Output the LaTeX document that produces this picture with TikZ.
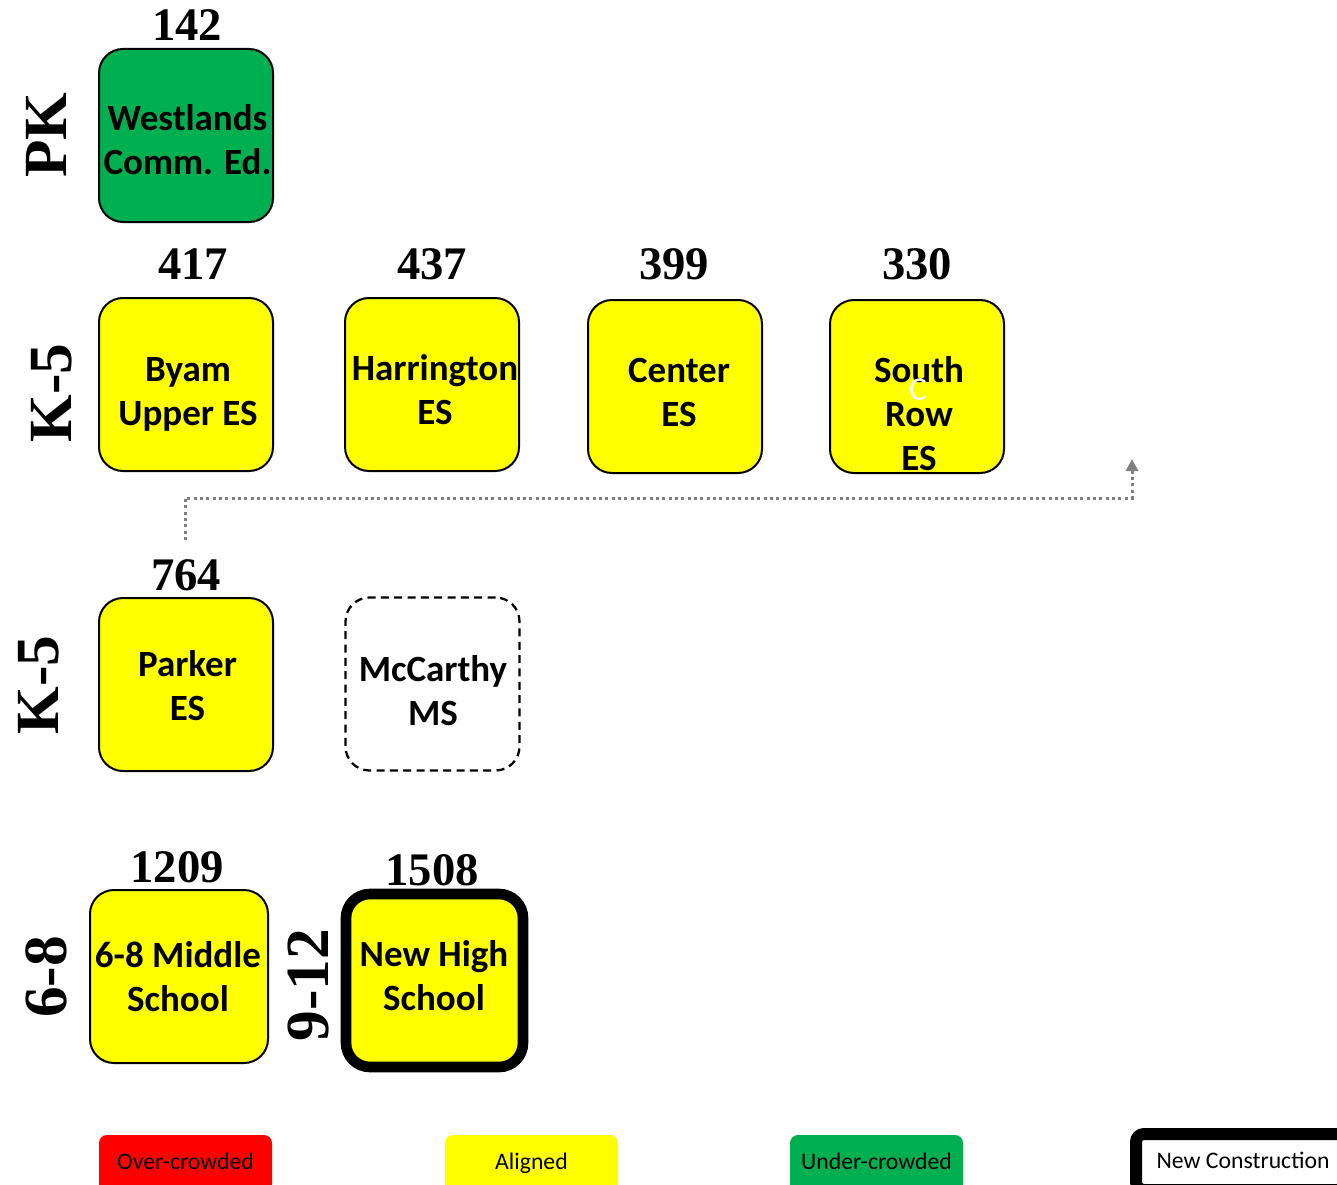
\documentclass[tikz,border=0pt]{standalone}
\usepackage{fontspec}
\setmainfont{Carlito}
\newfontfamily\numfont{Liberation Serif}
\usetikzlibrary{arrows.meta}
\definecolor{schyellow}{HTML}{FFFF00}
\definecolor{schgreen}{HTML}{00B050}
\definecolor{schred}{HTML}{FF0000}
\definecolor{arrgray}{HTML}{7F7F7F}
\begin{document}
\begin{tikzpicture}[x=0.75pt,y=-0.75pt,
  school/.style={draw=black, line width=1.5pt, rounded corners=18pt,
    minimum width=130.5pt, minimum height=129.75pt, inner sep=0pt},
  boxtext/.style={align=center, inner sep=0pt, font=\fontsize{27.75}{33}\selectfont\bfseries},
  aligned/.style={school, fill=schyellow},
  under/.style={school, fill=schgreen},
  proposed/.style={school, dashed, dash pattern=on 6pt off 4pt, line width=1.7pt},
  newbuild/.style={school, fill=schyellow, line width=8pt},
  enroll/.style={font=\numfont\bfseries\fontsize{35}{35}\selectfont, inner sep=0pt},
  grade/.style={rotate=90, font=\numfont\bfseries\fontsize{46}{46}\selectfont, inner sep=0pt},
  legendbox/.style={rounded corners=6pt, minimum width=129.75pt, minimum height=42.75pt,
    inner sep=0pt, text height=12.5pt, text depth=3.9pt, font=\fontsize{17.8}{20}\selectfont},
  linkline/.style={draw=arrgray, line width=2.25pt, dash pattern=on 2.25pt off 2.5pt,
    -{Triangle[width=9pt,length=9pt]}}
]
\clip (0,0) rectangle (1337,1184);
\path[use as bounding box] (0,0) rectangle (1337,1184);

% grade labels
\node[grade] (gPK) at (46,135) {PK};
\node[grade] (gK5a) at (52,393) {K-5};
\node[grade] (gK5b) at (39,685) {K-5};
\node[grade] (g68) at (46,977) {6-8};
\node[grade] (g912) at (308,985) {9-12};

% enrollment numbers
\node[enroll] (n142) at (187,25) {142};
\node[enroll] (n417) at (193,264) {417};
\node[enroll] (n437) at (432,264) {437};
\node[enroll] (n399) at (674,264) {399};
\node[enroll] (n330) at (917,264) {330};
\node[enroll] (n764) at (186,575) {764};
\node[enroll] (n1209) at (177,867) {1209};
\node[enroll] (n1508) at (432,870) {1508};

% school boxes
\node[under] (west) at (186,135.5) {};
\node[aligned] (byam) at (186,384.5) {};
\node[aligned] (harr) at (432,384.5) {};
\node[aligned] (cent) at (675,386.5) {};
\node[aligned] (south) at (917,386.5) {};
\node[aligned] (parker) at (186,684.5) {};
\node[proposed] (mcc) at (432.5,684) {};
\node[aligned, minimum width=133.5pt] (mid) at (179,976.5) {};
\node[newbuild, minimum width=132.75pt] (high) at (434.5,980.5) {};

% school names
\node[boxtext] (westtxt) at (187.5,139.5) {Westlands\\Comm. Ed.};
\node[boxtext] (byamtxt) at (188,394) {Byam\\Upper ES};
\node[boxtext] (harrtxt) at (435,389.5) {Harrington\\ES};
\node[boxtext] (centtxt) at (679,392.5) {Center\\ES};
\node[boxtext] (southtxt) at (919,413.5) {South\\Row\\ES};
\node[text=white, inner sep=0pt, font=\fontsize{25}{25}\selectfont] (southc) at (918,390) {C};
\node[boxtext] (parkertxt) at (187.5,685.5) {Parker\\ES};
\node[boxtext] (mcctxt) at (433,690.5) {McCarthy\\MS};
\node[boxtext] (midtxt) at (178,976.5) {6-8 Middle\\School};
\node[boxtext] (hightxt) at (434,976) {New High\\School};

% dotted link
\coordinate (arrStart) at (185,540);
\coordinate (arrTurn) at (1132,498);
\coordinate (arrEnd) at (1132,459);
\draw[linkline] (arrStart) |- (arrTurn) -- (arrEnd);

% legend
\node[legendbox, fill=schred] (lgOver) at (185.5,1163.5) {Over-crowded};
\node[legendbox, fill=schyellow] (lgAligned) at (531.5,1163.5) {Aligned};
\node[legendbox, fill=schgreen] (lgUnder) at (876.5,1163.5) {Under-crowded};
\node[draw=black, fill=white, line width=9pt, rounded corners=6pt, minimum width=156.75pt,
  minimum height=42pt, inner sep=0pt] (lgNew) at (1240.5,1162) {};
\node[font=\fontsize{17.8}{20}\selectfont, inner sep=0pt] (lgNewTxt) at (1243,1160) {New Construction};
\end{tikzpicture}
\end{document}
